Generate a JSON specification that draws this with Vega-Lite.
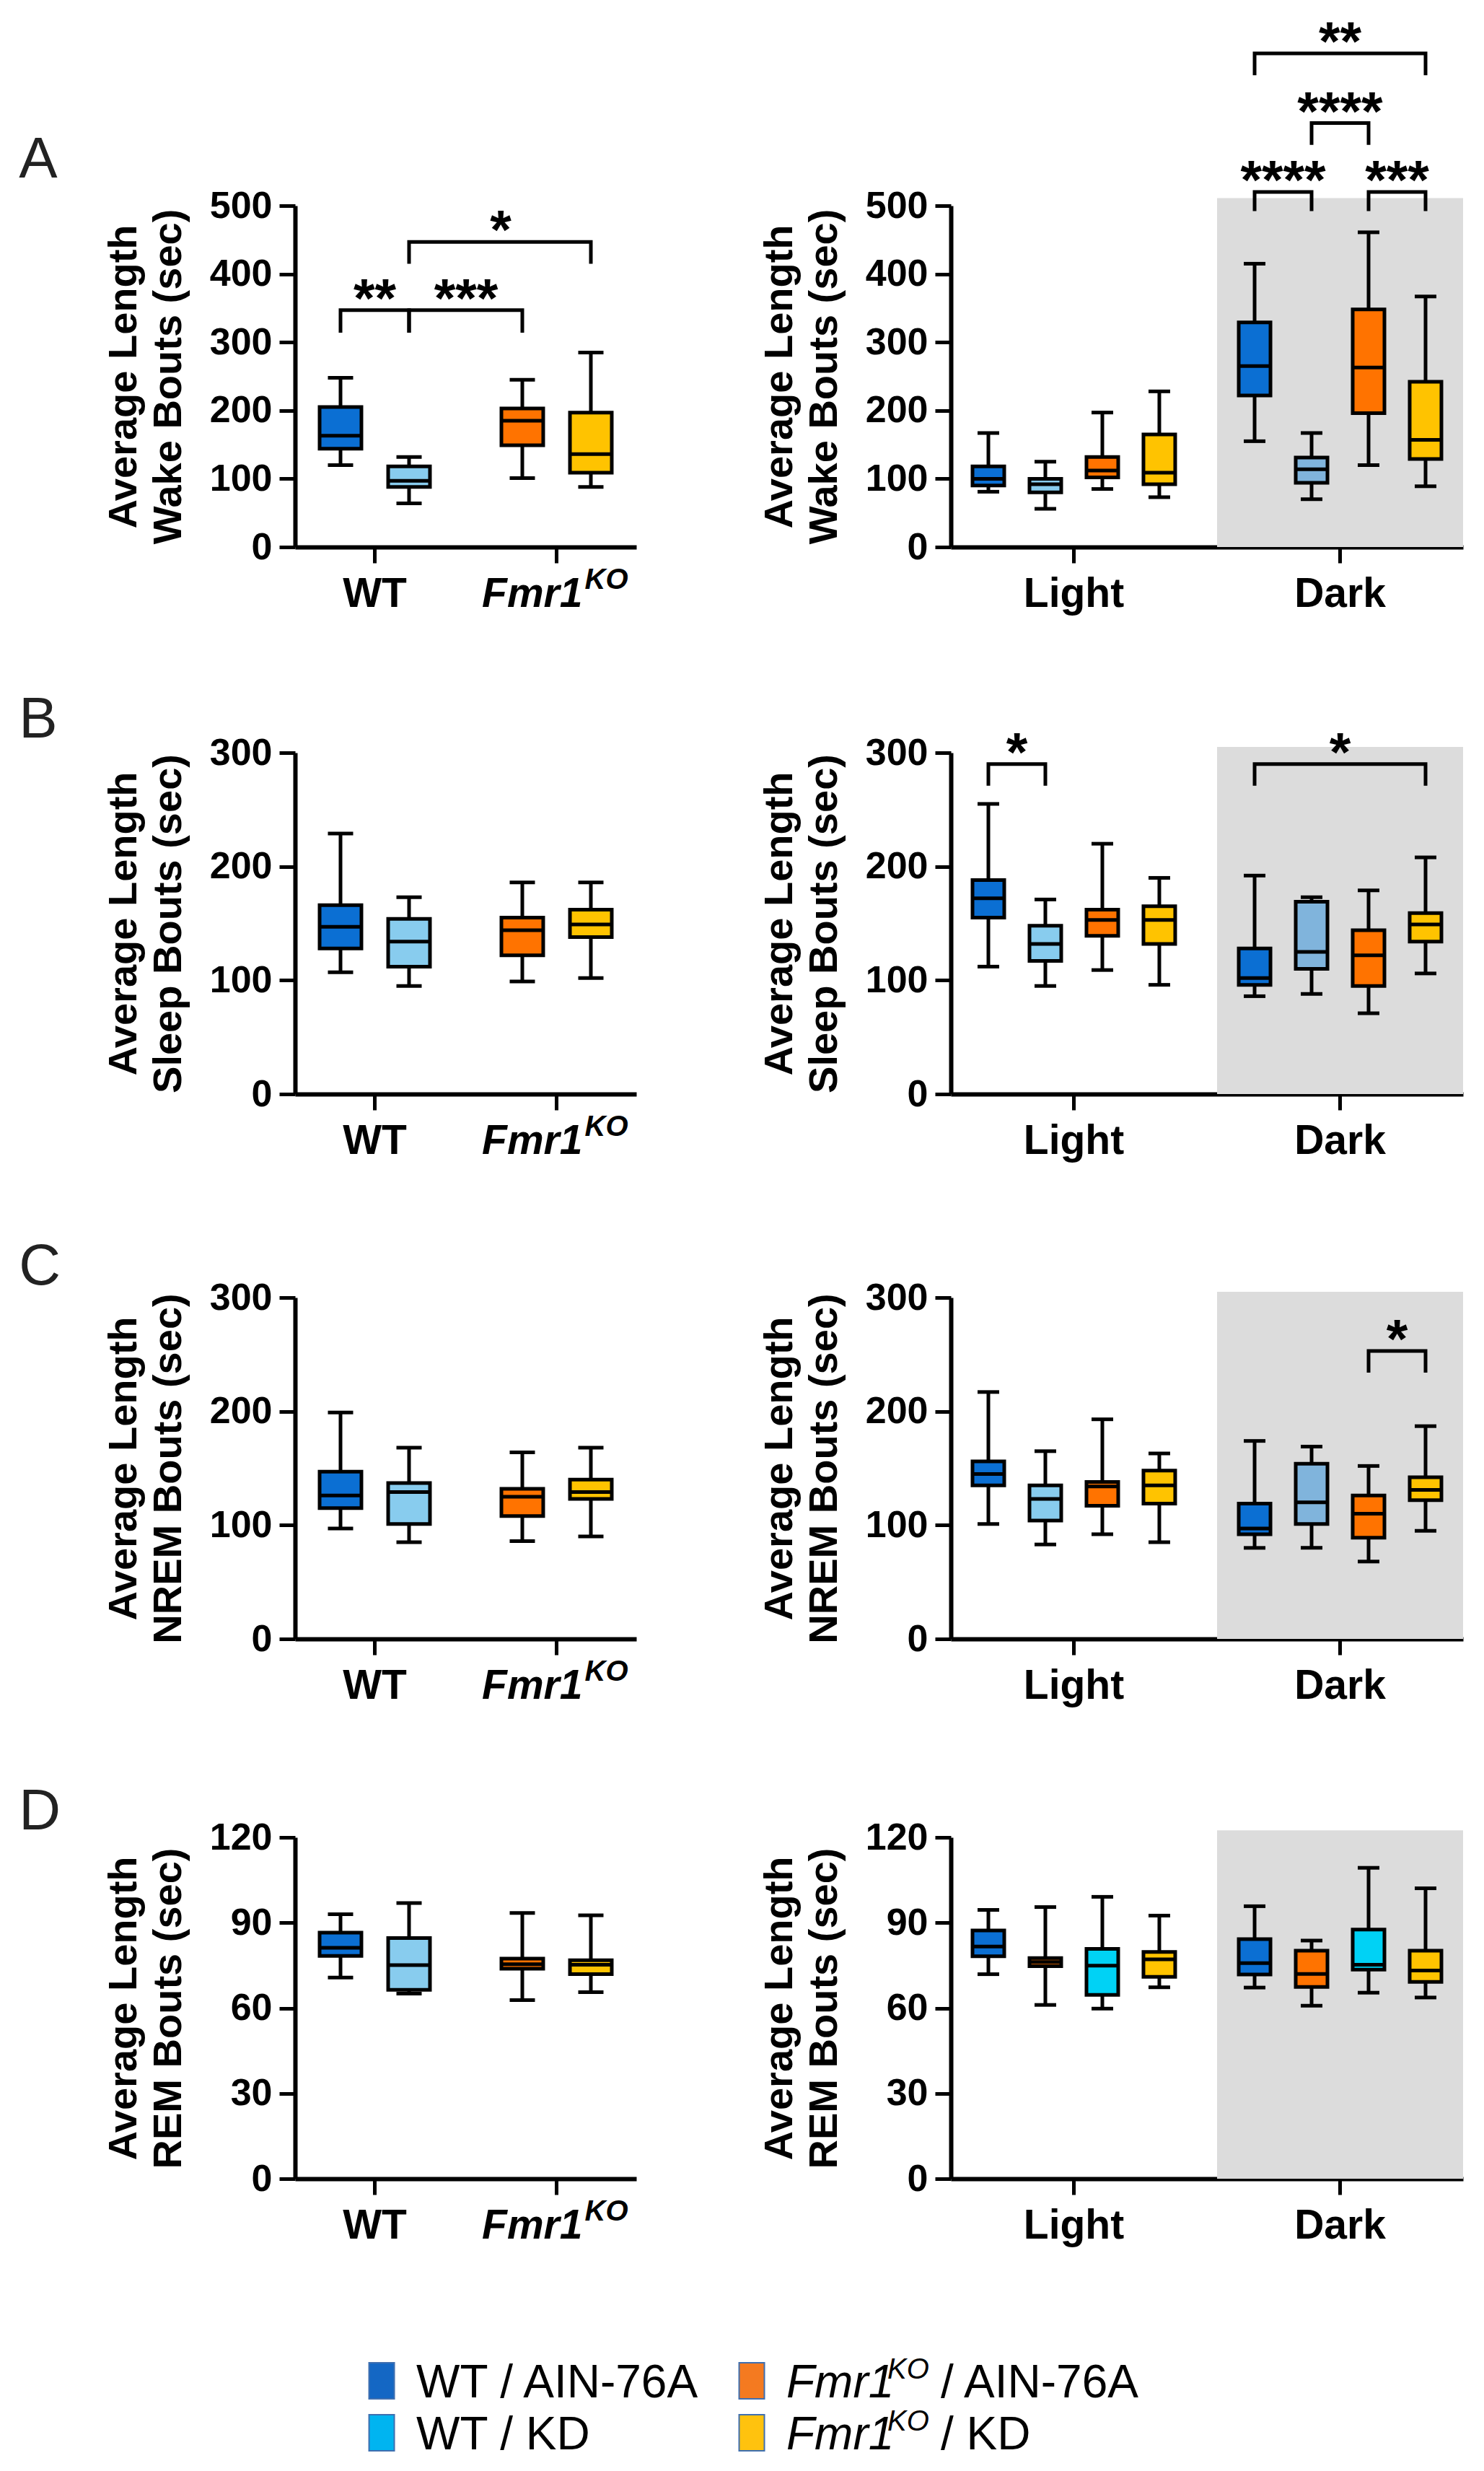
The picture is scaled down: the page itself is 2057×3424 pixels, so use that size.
{
"$schema":"https://vega.github.io/schema/vega-lite/v6.json",
"background":"white",
"padding":{"left":26,"top":22,"right":10,"bottom":5},
"datasets":{
"box":[
{"p":"A1","g":"WT","t":"AIN","c":"WT/AIN","lo":120,"q1":144,"md":163,"q3":205,"hi":248},
{"p":"A1","g":"WT","t":"KD","c":"WT/KD","lo":64,"q1":88,"md":97,"q3":118,"hi":132},
{"p":"A1","g":"KO","t":"AIN","c":"KO/AIN","lo":101,"q1":149,"md":185,"q3":203,"hi":245},
{"p":"A1","g":"KO","t":"KD","c":"KO/KD","lo":88,"q1":109,"md":136,"q3":197,"hi":285},
{"p":"A2","g":"Light","c":"WT/AIN","lo":81,"q1":90,"md":100,"q3":118,"hi":167},
{"p":"A2","g":"Light","c":"WT/KD","lo":56,"q1":80,"md":92,"q3":100,"hi":125},
{"p":"A2","g":"Light","c":"KO/AIN","lo":85,"q1":102,"md":112,"q3":132,"hi":197},
{"p":"A2","g":"Light","c":"KO/KD","lo":73,"q1":92,"md":109,"q3":165,"hi":228},
{"p":"A2","g":"Dark","c":"WT/AIN","lo":155,"q1":222,"md":265,"q3":329,"hi":415},
{"p":"A2","g":"Dark","c":"WT/KD","lo":70,"q1":94,"md":114,"q3":131,"hi":167},
{"p":"A2","g":"Dark","c":"KO/AIN","lo":120,"q1":196,"md":263,"q3":348,"hi":461},
{"p":"A2","g":"Dark","c":"KO/KD","lo":89,"q1":129,"md":157,"q3":242,"hi":367},
{"p":"B1","g":"WT","t":"AIN","c":"WT/AIN","lo":107,"q1":128,"md":147,"q3":166,"hi":229},
{"p":"B1","g":"WT","t":"KD","c":"WT/KD","lo":95,"q1":112,"md":134,"q3":154,"hi":173},
{"p":"B1","g":"KO","t":"AIN","c":"KO/AIN","lo":99,"q1":122,"md":144,"q3":155,"hi":186},
{"p":"B1","g":"KO","t":"KD","c":"KO/KD","lo":102,"q1":138,"md":149,"q3":162,"hi":186},
{"p":"B2","g":"Light","c":"WT/AIN","lo":112,"q1":155,"md":172,"q3":188,"hi":255},
{"p":"B2","g":"Light","c":"WT/KD","lo":95,"q1":117,"md":132,"q3":148,"hi":171},
{"p":"B2","g":"Light","c":"KO/AIN","lo":109,"q1":139,"md":153,"q3":162,"hi":220},
{"p":"B2","g":"Light","c":"KO/KD","lo":96,"q1":132,"md":153,"q3":165,"hi":190},
{"p":"B2","g":"Dark","c":"WT/AIN","lo":86,"q1":96,"md":102,"q3":128,"hi":192},
{"p":"B2","g":"Dark","c":"WT/KD","lo":88,"q1":110,"md":125,"q3":169,"hi":173},
{"p":"B2","g":"Dark","c":"KO/AIN","lo":71,"q1":95,"md":122,"q3":144,"hi":179},
{"p":"B2","g":"Dark","c":"KO/KD","lo":106,"q1":134,"md":149,"q3":159,"hi":208},
{"p":"C1","g":"WT","t":"AIN","c":"WT/AIN","lo":97,"q1":115,"md":126,"q3":147,"hi":199},
{"p":"C1","g":"WT","t":"KD","c":"WT/KD","lo":85,"q1":101,"md":129,"q3":137,"hi":168},
{"p":"C1","g":"KO","t":"AIN","c":"KO/AIN","lo":86,"q1":108,"md":125,"q3":132,"hi":164},
{"p":"C1","g":"KO","t":"KD","c":"KO/KD","lo":90,"q1":123,"md":129,"q3":140,"hi":168},
{"p":"C2","g":"Light","c":"WT/AIN","lo":101,"q1":135,"md":145,"q3":156,"hi":217},
{"p":"C2","g":"Light","c":"WT/KD","lo":83,"q1":104,"md":123,"q3":135,"hi":165},
{"p":"C2","g":"Light","c":"KO/AIN","lo":92,"q1":117,"md":134,"q3":138,"hi":193},
{"p":"C2","g":"Light","c":"KO/KD","lo":85,"q1":119,"md":135,"q3":148,"hi":163},
{"p":"C2","g":"Dark","c":"WT/AIN","lo":80,"q1":92,"md":97,"q3":119,"hi":174},
{"p":"C2","g":"Dark","c":"WT/KD","lo":80,"q1":101,"md":120,"q3":154,"hi":169},
{"p":"C2","g":"Dark","c":"KO/AIN","lo":68,"q1":89,"md":110,"q3":126,"hi":152},
{"p":"C2","g":"Dark","c":"KO/KD","lo":95,"q1":122,"md":131,"q3":142,"hi":187},
{"p":"D1","g":"WT","t":"AIN","c":"WT/AIN","lo":70.7,"q1":78.3,"md":81.2,"q3":86.5,"hi":93},
{"p":"D1","g":"WT","t":"KD","c":"WT/KD","lo":65.1,"q1":66.4,"md":75.1,"q3":84.6,"hi":96.9},
{"p":"D1","g":"KO","t":"AIN","c":"KO/AIN","lo":62.8,"q1":73.8,"md":75.4,"q3":77.4,"hi":93.4},
{"p":"D1","g":"KO","t":"KD","c":"KO/KD","lo":65.6,"q1":71.9,"md":75.2,"q3":76.8,"hi":92.6},
{"p":"D2","g":"Light","c":"WT/AIN","lo":71.9,"q1":78.2,"md":81.6,"q3":87.3,"hi":94.5},
{"p":"D2","g":"Light","c":"KO/AIN","lo":61.1,"q1":74.7,"md":76.2,"q3":77.6,"hi":95.5},
{"p":"D2","g":"Light","c":"WT/KD","lo":59.8,"q1":64.6,"md":74.9,"q3":80.8,"hi":99.1},
{"p":"D2","g":"Light","c":"KO/KD","lo":67.3,"q1":71.0,"md":77.1,"q3":79.7,"hi":92.5},
{"p":"D2","g":"Dark","c":"WT/AIN","lo":67.2,"q1":71.8,"md":75.8,"q3":84.2,"hi":95.8},
{"p":"D2","g":"Dark","c":"KO/AIN","lo":60.8,"q1":67.4,"md":72.0,"q3":80.2,"hi":83.7},
{"p":"D2","g":"Dark","c":"WT/KD","lo":65.4,"q1":73.5,"md":75.2,"q3":87.6,"hi":109.3},
{"p":"D2","g":"Dark","c":"KO/KD","lo":63.7,"q1":69.2,"md":73.2,"q3":80.2,"hi":102.1}
],
"br":[
{"p":"A1","b":"a","g":"WT","t":"AIN","y":314,"o":1},{"p":"A1","b":"a","g":"WT","t":"AIN","y":347,"o":2},{"p":"A1","b":"a","g":"WT","t":"KD","y":347,"o":3},{"p":"A1","b":"a","g":"WT","t":"KD","y":314,"o":4},
{"p":"A1","b":"b","g":"WT","t":"KD","y":314,"o":1},{"p":"A1","b":"b","g":"WT","t":"KD","y":347,"o":2},{"p":"A1","b":"b","g":"KO","t":"AIN","y":347,"o":3},{"p":"A1","b":"b","g":"KO","t":"AIN","y":314,"o":4},
{"p":"A1","b":"c","g":"WT","t":"KD","y":415,"o":1},{"p":"A1","b":"c","g":"WT","t":"KD","y":447,"o":2},{"p":"A1","b":"c","g":"KO","t":"KD","y":447,"o":3},{"p":"A1","b":"c","g":"KO","t":"KD","y":415,"o":4},
{"p":"A2","b":"a","g":"Dark","c":"WT/AIN","y":492,"o":1},{"p":"A2","b":"a","g":"Dark","c":"WT/AIN","y":520,"o":2},{"p":"A2","b":"a","g":"Dark","c":"WT/KD","y":520,"o":3},{"p":"A2","b":"a","g":"Dark","c":"WT/KD","y":492,"o":4},
{"p":"A2","b":"b","g":"Dark","c":"KO/AIN","y":492,"o":1},{"p":"A2","b":"b","g":"Dark","c":"KO/AIN","y":520,"o":2},{"p":"A2","b":"b","g":"Dark","c":"KO/KD","y":520,"o":3},{"p":"A2","b":"b","g":"Dark","c":"KO/KD","y":492,"o":4},
{"p":"A2","b":"c","g":"Dark","c":"WT/KD","y":589,"o":1},{"p":"A2","b":"c","g":"Dark","c":"WT/KD","y":621,"o":2},{"p":"A2","b":"c","g":"Dark","c":"KO/AIN","y":621,"o":3},{"p":"A2","b":"c","g":"Dark","c":"KO/AIN","y":589,"o":4},
{"p":"A2","b":"d","g":"Dark","c":"WT/AIN","y":691,"o":1},{"p":"A2","b":"d","g":"Dark","c":"WT/AIN","y":723,"o":2},{"p":"A2","b":"d","g":"Dark","c":"KO/KD","y":723,"o":3},{"p":"A2","b":"d","g":"Dark","c":"KO/KD","y":691,"o":4},
{"p":"B2","b":"a","g":"Light","c":"WT/AIN","y":271,"o":1},{"p":"B2","b":"a","g":"Light","c":"WT/AIN","y":290,"o":2},{"p":"B2","b":"a","g":"Light","c":"WT/KD","y":290,"o":3},{"p":"B2","b":"a","g":"Light","c":"WT/KD","y":271,"o":4},
{"p":"B2","b":"b","g":"Dark","c":"WT/AIN","y":271,"o":1},{"p":"B2","b":"b","g":"Dark","c":"WT/AIN","y":290,"o":2},{"p":"B2","b":"b","g":"Dark","c":"KO/KD","y":290,"o":3},{"p":"B2","b":"b","g":"Dark","c":"KO/KD","y":271,"o":4},
{"p":"C2","b":"a","g":"Dark","c":"KO/AIN","y":234,"o":1},{"p":"C2","b":"a","g":"Dark","c":"KO/AIN","y":253,"o":2},{"p":"C2","b":"a","g":"Dark","c":"KO/KD","y":253,"o":3},{"p":"C2","b":"a","g":"Dark","c":"KO/KD","y":234,"o":4}
],
"st":[
{"p":"A1","k":"mid","g":"WT","y":347,"s":"**"},
{"p":"A1","k":"c1","g":"WT","t":"KD","y":347,"s":"***"},
{"p":"A1","k":"c2","g":"WT","t":"KD","y":447,"s":"*"},
{"p":"A2","k":"adj","g":"Dark","c":"WT/AIN","y":520,"s":"****"},
{"p":"A2","k":"adj","g":"Dark","c":"KO/AIN","y":520,"s":"***"},
{"p":"A2","k":"mid","g":"Dark","y":621,"s":"****"},
{"p":"A2","k":"mid","g":"Dark","y":723,"s":"**"},
{"p":"B2","k":"adj","g":"Light","c":"WT/AIN","y":290,"s":"*"},
{"p":"B2","k":"mid","g":"Dark","y":290,"s":"*"},
{"p":"C2","k":"adj","g":"Dark","c":"KO/AIN","y":253,"s":"*"}
],
"leg":[
{"col":"WT","row":1,"c":"WT/AIN","full":"WT / AIN-76A","b":"/ AIN-76A"},
{"col":"WT","row":2,"c":"WT/KD","full":"WT / KD","b":"/ KD"},
{"col":"KO","row":1,"c":"KO/AIN","full":"","b":"/ AIN-76A"},
{"col":"KO","row":2,"c":"KO/KD","full":"","b":"/ KD"}
]
},
"vconcat":[
{"vconcat":[
{"hconcat":[
{"width":473,"height":473,
"title":{"text":"A","anchor":"start","frame":"bounds","fontSize":80,"fontWeight":"normal","color":"#222222","dx":-117,"offset":-67,"baseline":"alphabetic"},
"layer":[
{"data":{"name":"box"},"transform":[{"filter":"datum.p=='A1'"}],"layer":[
{"mark":{"type":"rule","color":"#000","strokeWidth":5},"encoding":{"x":{"field":"g","type":"nominal","title":null,"scale":{"type":"band","domain":["WT","KO"],"paddingInner":0.123,"paddingOuter":0},"axis":{"labelExpr":"datum.value=='KO'?'':datum.value"}},"xOffset":{"field":"t","type":"nominal","scale":{"type":"band","domain":["AIN","KD"],"paddingInner":0.39,"paddingOuter":0.358}},"y":{"field":"lo","type":"quantitative","title":["Average Length","Wake Bouts (sec)"],"scale":{"domain":[0,500],"nice":false},"axis":{"values":[0,100,200,300,400,500]}},"y2":{"field":"hi"}}},
{"mark":{"type":"bar","stroke":"#000","strokeWidth":5},"encoding":{"x":{"field":"g","type":"nominal","title":null},"xOffset":{"field":"t","type":"nominal"},"y":{"field":"q1","type":"quantitative","title":["Average Length","Wake Bouts (sec)"]},"y2":{"field":"q3"},"fill":{"field":"c","type":"nominal","legend":null,"scale":{"domain":["WT/AIN","WT/KD","KO/AIN","KO/KD"],"range":["#0B6FD3","#88CCEE","#FF7300","#FFC300"]}}}},
{"mark":{"type":"tick","color":"#000","thickness":5,"size":58,"opacity":1},"encoding":{"x":{"field":"g","type":"nominal","title":null},"xOffset":{"field":"t","type":"nominal"},"y":{"field":"md","type":"quantitative","title":["Average Length","Wake Bouts (sec)"]}}},
{"mark":{"type":"tick","color":"#000","thickness":5,"size":35,"opacity":1},"encoding":{"x":{"field":"g","type":"nominal","title":null},"xOffset":{"field":"t","type":"nominal"},"y":{"field":"lo","type":"quantitative","title":["Average Length","Wake Bouts (sec)"]}}},
{"mark":{"type":"tick","color":"#000","thickness":5,"size":35,"opacity":1},"encoding":{"x":{"field":"g","type":"nominal","title":null},"xOffset":{"field":"t","type":"nominal"},"y":{"field":"hi","type":"quantitative","title":["Average Length","Wake Bouts (sec)"]}}}
]},
{"data":{"name":"br"},"transform":[{"filter":"datum.p=='A1'"}],"mark":{"type":"line","color":"#000","strokeWidth":5},"encoding":{"x":{"field":"g","type":"nominal","title":null},"xOffset":{"field":"t","type":"nominal"},"y":{"field":"y","type":"quantitative","title":["Average Length","Wake Bouts (sec)"]},"detail":{"field":"b"},"order":{"field":"o","type":"quantitative"}}},
{"data":{"name":"st"},"transform":[{"filter":"datum.p=='A1' && datum.k=='mid'"}],"mark":{"type":"text","fontSize":76,"fontWeight":"bold","baseline":"alphabetic","dy":9,"color":"#000"},"encoding":{"x":{"field":"g","type":"nominal","title":null},"y":{"field":"y","type":"quantitative","title":["Average Length","Wake Bouts (sec)"]},"text":{"field":"s"}}},
{"data":{"name":"st"},"transform":[{"filter":"datum.p=='A1' && datum.k=='c1'"}],"mark":{"type":"text","fontSize":76,"fontWeight":"bold","baseline":"alphabetic","dy":9,"dx":79,"color":"#000"},"encoding":{"x":{"field":"g","type":"nominal","title":null},"xOffset":{"field":"t","type":"nominal"},"y":{"field":"y","type":"quantitative","title":["Average Length","Wake Bouts (sec)"]},"text":{"field":"s"}}},
{"data":{"name":"st"},"transform":[{"filter":"datum.p=='A1' && datum.k=='c2'"}],"mark":{"type":"text","fontSize":76,"fontWeight":"bold","baseline":"alphabetic","dy":9,"dx":127,"color":"#000"},"encoding":{"x":{"field":"g","type":"nominal","title":null},"xOffset":{"field":"t","type":"nominal"},"y":{"field":"y","type":"quantitative","title":["Average Length","Wake Bouts (sec)"]},"text":{"field":"s"}}},
{"data":{"values":[{"g":"KO"}]},"layer":[
{"mark":{"type":"text","text":"Fmr1","fontSize":57,"fontWeight":"bold","fontStyle":"italic","align":"right","baseline":"alphabetic","dx":36,"dy":83,"color":"#000"},"encoding":{"x":{"field":"g","type":"nominal","title":null},"y":{"datum":0,"type":"quantitative","title":["Average Length","Wake Bouts (sec)"]}}},
{"mark":{"type":"text","text":"KO","fontSize":40,"fontWeight":"bold","fontStyle":"italic","align":"left","baseline":"alphabetic","dx":39,"dy":58,"color":"#000"},"encoding":{"x":{"field":"g","type":"nominal","title":null},"y":{"datum":0,"type":"quantitative","title":["Average Length","Wake Bouts (sec)"]}}}
]}
]},
{"width":710,"height":473,
"layer":[
{"data":{"values":[{"g":"Dark"}]},"mark":{"type":"bar","color":"#DCDCDC"},"encoding":{"x":{"field":"g","type":"nominal","title":null},"y":{"datum":511,"type":"quantitative","title":["Average Length","Wake Bouts (sec)"]},"y2":{"datum":0}}},
{"data":{"name":"box"},"transform":[{"filter":"datum.p=='A2'"}],"layer":[
{"mark":{"type":"rule","color":"#000","strokeWidth":5},"encoding":{"x":{"field":"g","type":"nominal","title":null,"scale":{"type":"band","domain":["Light","Dark"],"paddingInner":0.076,"paddingOuter":0}},"xOffset":{"field":"c","type":"nominal","scale":{"type":"band","domain":["WT/AIN","WT/KD","KO/AIN","KO/KD"],"paddingInner":0.443,"paddingOuter":0.38}},"y":{"field":"lo","type":"quantitative","title":["Average Length","Wake Bouts (sec)"],"scale":{"domain":[0,500],"nice":false},"axis":{"values":[0,100,200,300,400,500]}},"y2":{"field":"hi"}}},
{"mark":{"type":"bar","stroke":"#000","strokeWidth":5},"encoding":{"x":{"field":"g","type":"nominal","title":null},"xOffset":{"field":"c","type":"nominal"},"y":{"field":"q1","type":"quantitative","title":["Average Length","Wake Bouts (sec)"]},"y2":{"field":"q3"},"fill":{"condition":{"test":"datum.g=='Dark' && datum.c=='WT/KD'","value":"#80B4DC"},"field":"c","type":"nominal","legend":null,"scale":{"domain":["WT/AIN","WT/KD","KO/AIN","KO/KD"],"range":["#0B6FD3","#88CCEE","#FF7300","#FFC300"]}}}},
{"mark":{"type":"tick","color":"#000","thickness":5,"size":46,"opacity":1},"encoding":{"x":{"field":"g","type":"nominal","title":null},"xOffset":{"field":"c","type":"nominal"},"y":{"field":"md","type":"quantitative","title":["Average Length","Wake Bouts (sec)"]}}},
{"mark":{"type":"tick","color":"#000","thickness":5,"size":30,"opacity":1},"encoding":{"x":{"field":"g","type":"nominal","title":null},"xOffset":{"field":"c","type":"nominal"},"y":{"field":"lo","type":"quantitative","title":["Average Length","Wake Bouts (sec)"]}}},
{"mark":{"type":"tick","color":"#000","thickness":5,"size":30,"opacity":1},"encoding":{"x":{"field":"g","type":"nominal","title":null},"xOffset":{"field":"c","type":"nominal"},"y":{"field":"hi","type":"quantitative","title":["Average Length","Wake Bouts (sec)"]}}}
]},
{"data":{"name":"br"},"transform":[{"filter":"datum.p=='A2'"}],"mark":{"type":"line","color":"#000","strokeWidth":5},"encoding":{"x":{"field":"g","type":"nominal","title":null},"xOffset":{"field":"c","type":"nominal"},"y":{"field":"y","type":"quantitative","title":["Average Length","Wake Bouts (sec)"]},"detail":{"field":"b"},"order":{"field":"o","type":"quantitative"}}},
{"data":{"name":"st"},"transform":[{"filter":"datum.p=='A2' && datum.k=='mid'"}],"mark":{"type":"text","fontSize":76,"fontWeight":"bold","baseline":"alphabetic","dy":9,"color":"#000"},"encoding":{"x":{"field":"g","type":"nominal","title":null},"y":{"field":"y","type":"quantitative","title":["Average Length","Wake Bouts (sec)"]},"text":{"field":"s"}}},
{"data":{"name":"st"},"transform":[{"filter":"datum.p=='A2' && datum.k=='adj'"}],"mark":{"type":"text","fontSize":76,"fontWeight":"bold","baseline":"alphabetic","dy":9,"dx":39.5,"color":"#000"},"encoding":{"x":{"field":"g","type":"nominal","title":null},"xOffset":{"field":"c","type":"nominal"},"y":{"field":"y","type":"quantitative","title":["Average Length","Wake Bouts (sec)"]},"text":{"field":"s"}}}
]}
],"spacing":436,"bounds":"flush","resolve":{"scale":{"x":"independent","y":"independent","xOffset":"independent","fill":"independent"}}},
{"hconcat":[
{"width":473,"height":473,
"title":{"text":"B","anchor":"start","frame":"bounds","fontSize":80,"fontWeight":"normal","color":"#222222","dx":-117,"offset":-85,"baseline":"alphabetic"},
"layer":[
{"data":{"name":"box"},"transform":[{"filter":"datum.p=='B1'"}],"layer":[
{"mark":{"type":"rule","color":"#000","strokeWidth":5},"encoding":{"x":{"field":"g","type":"nominal","title":null,"scale":{"type":"band","domain":["WT","KO"],"paddingInner":0.123,"paddingOuter":0},"axis":{"labelExpr":"datum.value=='KO'?'':datum.value"}},"xOffset":{"field":"t","type":"nominal","scale":{"type":"band","domain":["AIN","KD"],"paddingInner":0.39,"paddingOuter":0.358}},"y":{"field":"lo","type":"quantitative","title":["Average Length","Sleep Bouts (sec)"],"scale":{"domain":[0,300],"nice":false},"axis":{"values":[0,100,200,300]}},"y2":{"field":"hi"}}},
{"mark":{"type":"bar","stroke":"#000","strokeWidth":5},"encoding":{"x":{"field":"g","type":"nominal","title":null},"xOffset":{"field":"t","type":"nominal"},"y":{"field":"q1","type":"quantitative","title":["Average Length","Sleep Bouts (sec)"]},"y2":{"field":"q3"},"fill":{"field":"c","type":"nominal","legend":null,"scale":{"domain":["WT/AIN","WT/KD","KO/AIN","KO/KD"],"range":["#0B6FD3","#88CCEE","#FF7300","#FFC300"]}}}},
{"mark":{"type":"tick","color":"#000","thickness":5,"size":58,"opacity":1},"encoding":{"x":{"field":"g","type":"nominal","title":null},"xOffset":{"field":"t","type":"nominal"},"y":{"field":"md","type":"quantitative","title":["Average Length","Sleep Bouts (sec)"]}}},
{"mark":{"type":"tick","color":"#000","thickness":5,"size":35,"opacity":1},"encoding":{"x":{"field":"g","type":"nominal","title":null},"xOffset":{"field":"t","type":"nominal"},"y":{"field":"lo","type":"quantitative","title":["Average Length","Sleep Bouts (sec)"]}}},
{"mark":{"type":"tick","color":"#000","thickness":5,"size":35,"opacity":1},"encoding":{"x":{"field":"g","type":"nominal","title":null},"xOffset":{"field":"t","type":"nominal"},"y":{"field":"hi","type":"quantitative","title":["Average Length","Sleep Bouts (sec)"]}}}
]},
{"data":{"values":[{"g":"KO"}]},"layer":[
{"mark":{"type":"text","text":"Fmr1","fontSize":57,"fontWeight":"bold","fontStyle":"italic","align":"right","baseline":"alphabetic","dx":36,"dy":83,"color":"#000"},"encoding":{"x":{"field":"g","type":"nominal","title":null},"y":{"datum":0,"type":"quantitative","title":["Average Length","Sleep Bouts (sec)"]}}},
{"mark":{"type":"text","text":"KO","fontSize":40,"fontWeight":"bold","fontStyle":"italic","align":"left","baseline":"alphabetic","dx":39,"dy":58,"color":"#000"},"encoding":{"x":{"field":"g","type":"nominal","title":null},"y":{"datum":0,"type":"quantitative","title":["Average Length","Sleep Bouts (sec)"]}}}
]}
]},
{"width":710,"height":473,
"layer":[
{"data":{"values":[{"g":"Dark"}]},"mark":{"type":"bar","color":"#DCDCDC"},"encoding":{"x":{"field":"g","type":"nominal","title":null},"y":{"datum":305,"type":"quantitative","title":["Average Length","Sleep Bouts (sec)"]},"y2":{"datum":0}}},
{"data":{"name":"box"},"transform":[{"filter":"datum.p=='B2'"}],"layer":[
{"mark":{"type":"rule","color":"#000","strokeWidth":5},"encoding":{"x":{"field":"g","type":"nominal","title":null,"scale":{"type":"band","domain":["Light","Dark"],"paddingInner":0.076,"paddingOuter":0}},"xOffset":{"field":"c","type":"nominal","scale":{"type":"band","domain":["WT/AIN","WT/KD","KO/AIN","KO/KD"],"paddingInner":0.443,"paddingOuter":0.38}},"y":{"field":"lo","type":"quantitative","title":["Average Length","Sleep Bouts (sec)"],"scale":{"domain":[0,300],"nice":false},"axis":{"values":[0,100,200,300]}},"y2":{"field":"hi"}}},
{"mark":{"type":"bar","stroke":"#000","strokeWidth":5},"encoding":{"x":{"field":"g","type":"nominal","title":null},"xOffset":{"field":"c","type":"nominal"},"y":{"field":"q1","type":"quantitative","title":["Average Length","Sleep Bouts (sec)"]},"y2":{"field":"q3"},"fill":{"condition":{"test":"datum.g=='Dark' && datum.c=='WT/KD'","value":"#80B4DC"},"field":"c","type":"nominal","legend":null,"scale":{"domain":["WT/AIN","WT/KD","KO/AIN","KO/KD"],"range":["#0B6FD3","#88CCEE","#FF7300","#FFC300"]}}}},
{"mark":{"type":"tick","color":"#000","thickness":5,"size":46,"opacity":1},"encoding":{"x":{"field":"g","type":"nominal","title":null},"xOffset":{"field":"c","type":"nominal"},"y":{"field":"md","type":"quantitative","title":["Average Length","Sleep Bouts (sec)"]}}},
{"mark":{"type":"tick","color":"#000","thickness":5,"size":30,"opacity":1},"encoding":{"x":{"field":"g","type":"nominal","title":null},"xOffset":{"field":"c","type":"nominal"},"y":{"field":"lo","type":"quantitative","title":["Average Length","Sleep Bouts (sec)"]}}},
{"mark":{"type":"tick","color":"#000","thickness":5,"size":30,"opacity":1},"encoding":{"x":{"field":"g","type":"nominal","title":null},"xOffset":{"field":"c","type":"nominal"},"y":{"field":"hi","type":"quantitative","title":["Average Length","Sleep Bouts (sec)"]}}}
]},
{"data":{"name":"br"},"transform":[{"filter":"datum.p=='B2'"}],"mark":{"type":"line","color":"#000","strokeWidth":5},"encoding":{"x":{"field":"g","type":"nominal","title":null},"xOffset":{"field":"c","type":"nominal"},"y":{"field":"y","type":"quantitative","title":["Average Length","Sleep Bouts (sec)"]},"detail":{"field":"b"},"order":{"field":"o","type":"quantitative"}}},
{"data":{"name":"st"},"transform":[{"filter":"datum.p=='B2' && datum.k=='mid'"}],"mark":{"type":"text","fontSize":76,"fontWeight":"bold","baseline":"alphabetic","dy":9,"color":"#000"},"encoding":{"x":{"field":"g","type":"nominal","title":null},"y":{"field":"y","type":"quantitative","title":["Average Length","Sleep Bouts (sec)"]},"text":{"field":"s"}}},
{"data":{"name":"st"},"transform":[{"filter":"datum.p=='B2' && datum.k=='adj'"}],"mark":{"type":"text","fontSize":76,"fontWeight":"bold","baseline":"alphabetic","dy":9,"dx":39.5,"color":"#000"},"encoding":{"x":{"field":"g","type":"nominal","title":null},"xOffset":{"field":"c","type":"nominal"},"y":{"field":"y","type":"quantitative","title":["Average Length","Sleep Bouts (sec)"]},"text":{"field":"s"}}}
]}
],"spacing":436,"bounds":"flush","resolve":{"scale":{"x":"independent","y":"independent","xOffset":"independent","fill":"independent"}}},
{"hconcat":[
{"width":473,"height":473,
"title":{"text":"C","anchor":"start","frame":"bounds","fontSize":80,"fontWeight":"normal","color":"#222222","dx":-117,"offset":-88,"baseline":"alphabetic"},
"layer":[
{"data":{"name":"box"},"transform":[{"filter":"datum.p=='C1'"}],"layer":[
{"mark":{"type":"rule","color":"#000","strokeWidth":5},"encoding":{"x":{"field":"g","type":"nominal","title":null,"scale":{"type":"band","domain":["WT","KO"],"paddingInner":0.123,"paddingOuter":0},"axis":{"labelExpr":"datum.value=='KO'?'':datum.value"}},"xOffset":{"field":"t","type":"nominal","scale":{"type":"band","domain":["AIN","KD"],"paddingInner":0.39,"paddingOuter":0.358}},"y":{"field":"lo","type":"quantitative","title":["Average Length","NREM Bouts (sec)"],"scale":{"domain":[0,300],"nice":false},"axis":{"values":[0,100,200,300]}},"y2":{"field":"hi"}}},
{"mark":{"type":"bar","stroke":"#000","strokeWidth":5},"encoding":{"x":{"field":"g","type":"nominal","title":null},"xOffset":{"field":"t","type":"nominal"},"y":{"field":"q1","type":"quantitative","title":["Average Length","NREM Bouts (sec)"]},"y2":{"field":"q3"},"fill":{"field":"c","type":"nominal","legend":null,"scale":{"domain":["WT/AIN","WT/KD","KO/AIN","KO/KD"],"range":["#0B6FD3","#88CCEE","#FF7300","#FFC300"]}}}},
{"mark":{"type":"tick","color":"#000","thickness":5,"size":58,"opacity":1},"encoding":{"x":{"field":"g","type":"nominal","title":null},"xOffset":{"field":"t","type":"nominal"},"y":{"field":"md","type":"quantitative","title":["Average Length","NREM Bouts (sec)"]}}},
{"mark":{"type":"tick","color":"#000","thickness":5,"size":35,"opacity":1},"encoding":{"x":{"field":"g","type":"nominal","title":null},"xOffset":{"field":"t","type":"nominal"},"y":{"field":"lo","type":"quantitative","title":["Average Length","NREM Bouts (sec)"]}}},
{"mark":{"type":"tick","color":"#000","thickness":5,"size":35,"opacity":1},"encoding":{"x":{"field":"g","type":"nominal","title":null},"xOffset":{"field":"t","type":"nominal"},"y":{"field":"hi","type":"quantitative","title":["Average Length","NREM Bouts (sec)"]}}}
]},
{"data":{"values":[{"g":"KO"}]},"layer":[
{"mark":{"type":"text","text":"Fmr1","fontSize":57,"fontWeight":"bold","fontStyle":"italic","align":"right","baseline":"alphabetic","dx":36,"dy":83,"color":"#000"},"encoding":{"x":{"field":"g","type":"nominal","title":null},"y":{"datum":0,"type":"quantitative","title":["Average Length","NREM Bouts (sec)"]}}},
{"mark":{"type":"text","text":"KO","fontSize":40,"fontWeight":"bold","fontStyle":"italic","align":"left","baseline":"alphabetic","dx":39,"dy":58,"color":"#000"},"encoding":{"x":{"field":"g","type":"nominal","title":null},"y":{"datum":0,"type":"quantitative","title":["Average Length","NREM Bouts (sec)"]}}}
]}
]},
{"width":710,"height":473,
"layer":[
{"data":{"values":[{"g":"Dark"}]},"mark":{"type":"bar","color":"#DCDCDC"},"encoding":{"x":{"field":"g","type":"nominal","title":null},"y":{"datum":305,"type":"quantitative","title":["Average Length","NREM Bouts (sec)"]},"y2":{"datum":0}}},
{"data":{"name":"box"},"transform":[{"filter":"datum.p=='C2'"}],"layer":[
{"mark":{"type":"rule","color":"#000","strokeWidth":5},"encoding":{"x":{"field":"g","type":"nominal","title":null,"scale":{"type":"band","domain":["Light","Dark"],"paddingInner":0.076,"paddingOuter":0}},"xOffset":{"field":"c","type":"nominal","scale":{"type":"band","domain":["WT/AIN","WT/KD","KO/AIN","KO/KD"],"paddingInner":0.443,"paddingOuter":0.38}},"y":{"field":"lo","type":"quantitative","title":["Average Length","NREM Bouts (sec)"],"scale":{"domain":[0,300],"nice":false},"axis":{"values":[0,100,200,300]}},"y2":{"field":"hi"}}},
{"mark":{"type":"bar","stroke":"#000","strokeWidth":5},"encoding":{"x":{"field":"g","type":"nominal","title":null},"xOffset":{"field":"c","type":"nominal"},"y":{"field":"q1","type":"quantitative","title":["Average Length","NREM Bouts (sec)"]},"y2":{"field":"q3"},"fill":{"condition":{"test":"datum.g=='Dark' && datum.c=='WT/KD'","value":"#80B4DC"},"field":"c","type":"nominal","legend":null,"scale":{"domain":["WT/AIN","WT/KD","KO/AIN","KO/KD"],"range":["#0B6FD3","#88CCEE","#FF7300","#FFC300"]}}}},
{"mark":{"type":"tick","color":"#000","thickness":5,"size":46,"opacity":1},"encoding":{"x":{"field":"g","type":"nominal","title":null},"xOffset":{"field":"c","type":"nominal"},"y":{"field":"md","type":"quantitative","title":["Average Length","NREM Bouts (sec)"]}}},
{"mark":{"type":"tick","color":"#000","thickness":5,"size":30,"opacity":1},"encoding":{"x":{"field":"g","type":"nominal","title":null},"xOffset":{"field":"c","type":"nominal"},"y":{"field":"lo","type":"quantitative","title":["Average Length","NREM Bouts (sec)"]}}},
{"mark":{"type":"tick","color":"#000","thickness":5,"size":30,"opacity":1},"encoding":{"x":{"field":"g","type":"nominal","title":null},"xOffset":{"field":"c","type":"nominal"},"y":{"field":"hi","type":"quantitative","title":["Average Length","NREM Bouts (sec)"]}}}
]},
{"data":{"name":"br"},"transform":[{"filter":"datum.p=='C2'"}],"mark":{"type":"line","color":"#000","strokeWidth":5},"encoding":{"x":{"field":"g","type":"nominal","title":null},"xOffset":{"field":"c","type":"nominal"},"y":{"field":"y","type":"quantitative","title":["Average Length","NREM Bouts (sec)"]},"detail":{"field":"b"},"order":{"field":"o","type":"quantitative"}}},
{"data":{"name":"st"},"transform":[{"filter":"datum.p=='C2' && datum.k=='adj'"}],"mark":{"type":"text","fontSize":76,"fontWeight":"bold","baseline":"alphabetic","dy":9,"dx":39.5,"color":"#000"},"encoding":{"x":{"field":"g","type":"nominal","title":null},"xOffset":{"field":"c","type":"nominal"},"y":{"field":"y","type":"quantitative","title":["Average Length","NREM Bouts (sec)"]},"text":{"field":"s"}}}
]}
],"spacing":436,"bounds":"flush","resolve":{"scale":{"x":"independent","y":"independent","xOffset":"independent","fill":"independent"}}},
{"hconcat":[
{"width":473,"height":473,
"title":{"text":"D","anchor":"start","frame":"bounds","fontSize":80,"fontWeight":"normal","color":"#222222","dx":-117,"offset":-95,"baseline":"alphabetic"},
"layer":[
{"data":{"name":"box"},"transform":[{"filter":"datum.p=='D1'"}],"layer":[
{"mark":{"type":"rule","color":"#000","strokeWidth":5},"encoding":{"x":{"field":"g","type":"nominal","title":null,"scale":{"type":"band","domain":["WT","KO"],"paddingInner":0.123,"paddingOuter":0},"axis":{"labelExpr":"datum.value=='KO'?'':datum.value"}},"xOffset":{"field":"t","type":"nominal","scale":{"type":"band","domain":["AIN","KD"],"paddingInner":0.39,"paddingOuter":0.358}},"y":{"field":"lo","type":"quantitative","title":["Average Length","REM Bouts (sec)"],"scale":{"domain":[0,120],"nice":false},"axis":{"values":[0,30,60,90,120]}},"y2":{"field":"hi"}}},
{"mark":{"type":"bar","stroke":"#000","strokeWidth":5},"encoding":{"x":{"field":"g","type":"nominal","title":null},"xOffset":{"field":"t","type":"nominal"},"y":{"field":"q1","type":"quantitative","title":["Average Length","REM Bouts (sec)"]},"y2":{"field":"q3"},"fill":{"field":"c","type":"nominal","legend":null,"scale":{"domain":["WT/AIN","WT/KD","KO/AIN","KO/KD"],"range":["#0B6FD3","#88CCEE","#FF7300","#FFC300"]}}}},
{"mark":{"type":"tick","color":"#000","thickness":5,"size":58,"opacity":1},"encoding":{"x":{"field":"g","type":"nominal","title":null},"xOffset":{"field":"t","type":"nominal"},"y":{"field":"md","type":"quantitative","title":["Average Length","REM Bouts (sec)"]}}},
{"mark":{"type":"tick","color":"#000","thickness":5,"size":35,"opacity":1},"encoding":{"x":{"field":"g","type":"nominal","title":null},"xOffset":{"field":"t","type":"nominal"},"y":{"field":"lo","type":"quantitative","title":["Average Length","REM Bouts (sec)"]}}},
{"mark":{"type":"tick","color":"#000","thickness":5,"size":35,"opacity":1},"encoding":{"x":{"field":"g","type":"nominal","title":null},"xOffset":{"field":"t","type":"nominal"},"y":{"field":"hi","type":"quantitative","title":["Average Length","REM Bouts (sec)"]}}}
]},
{"data":{"values":[{"g":"KO"}]},"layer":[
{"mark":{"type":"text","text":"Fmr1","fontSize":57,"fontWeight":"bold","fontStyle":"italic","align":"right","baseline":"alphabetic","dx":36,"dy":83,"color":"#000"},"encoding":{"x":{"field":"g","type":"nominal","title":null},"y":{"datum":0,"type":"quantitative","title":["Average Length","REM Bouts (sec)"]}}},
{"mark":{"type":"text","text":"KO","fontSize":40,"fontWeight":"bold","fontStyle":"italic","align":"left","baseline":"alphabetic","dx":39,"dy":58,"color":"#000"},"encoding":{"x":{"field":"g","type":"nominal","title":null},"y":{"datum":0,"type":"quantitative","title":["Average Length","REM Bouts (sec)"]}}}
]}
]},
{"width":710,"height":473,
"layer":[
{"data":{"values":[{"g":"Dark"}]},"mark":{"type":"bar","color":"#DCDCDC"},"encoding":{"x":{"field":"g","type":"nominal","title":null},"y":{"datum":122.5,"type":"quantitative","title":["Average Length","REM Bouts (sec)"]},"y2":{"datum":0}}},
{"data":{"name":"box"},"transform":[{"filter":"datum.p=='D2'"}],"layer":[
{"mark":{"type":"rule","color":"#000","strokeWidth":5},"encoding":{"x":{"field":"g","type":"nominal","title":null,"scale":{"type":"band","domain":["Light","Dark"],"paddingInner":0.076,"paddingOuter":0}},"xOffset":{"field":"c","type":"nominal","scale":{"type":"band","domain":["WT/AIN","KO/AIN","WT/KD","KO/KD"],"paddingInner":0.443,"paddingOuter":0.38}},"y":{"field":"lo","type":"quantitative","title":["Average Length","REM Bouts (sec)"],"scale":{"domain":[0,120],"nice":false},"axis":{"values":[0,30,60,90,120]}},"y2":{"field":"hi"}}},
{"mark":{"type":"bar","stroke":"#000","strokeWidth":5},"encoding":{"x":{"field":"g","type":"nominal","title":null},"xOffset":{"field":"c","type":"nominal"},"y":{"field":"q1","type":"quantitative","title":["Average Length","REM Bouts (sec)"]},"y2":{"field":"q3"},"fill":{"field":"c","type":"nominal","legend":null,"scale":{"domain":["WT/AIN","WT/KD","KO/AIN","KO/KD"],"range":["#0B6FD3","#00D2F5","#FF7300","#FFC300"]}}}},
{"mark":{"type":"tick","color":"#000","thickness":5,"size":46,"opacity":1},"encoding":{"x":{"field":"g","type":"nominal","title":null},"xOffset":{"field":"c","type":"nominal"},"y":{"field":"md","type":"quantitative","title":["Average Length","REM Bouts (sec)"]}}},
{"mark":{"type":"tick","color":"#000","thickness":5,"size":30,"opacity":1},"encoding":{"x":{"field":"g","type":"nominal","title":null},"xOffset":{"field":"c","type":"nominal"},"y":{"field":"lo","type":"quantitative","title":["Average Length","REM Bouts (sec)"]}}},
{"mark":{"type":"tick","color":"#000","thickness":5,"size":30,"opacity":1},"encoding":{"x":{"field":"g","type":"nominal","title":null},"xOffset":{"field":"c","type":"nominal"},"y":{"field":"hi","type":"quantitative","title":["Average Length","REM Bouts (sec)"]}}}
]}
]}
],"spacing":436,"bounds":"flush","resolve":{"scale":{"x":"independent","y":"independent","xOffset":"independent","fill":"independent"}}}
],"spacing":106,"resolve":{"scale":{"x":"independent","y":"independent","xOffset":"independent","fill":"independent"}}},
{"width":1146,"height":144,
"data":{"name":"leg"},
"encoding":{
"x":{"field":"col","type":"nominal","bandPosition":0,"scale":{"type":"band","domain":["WT","KO"],"paddingInner":0,"paddingOuter":0.117,"align":1},"axis":null},
"y":{"field":"row","type":"nominal","scale":{"type":"band","domain":[1,2],"paddingInner":0,"paddingOuter":0},"axis":null}
},
"layer":[
{"mark":{"type":"point","filled":true,"opacity":1,"shape":"M-0.7,-1L0.7,-1L0.7,1L-0.7,1Z","size":2500,"stroke":"#3F6FB0","strokeWidth":2},"encoding":{"fill":{"field":"c","type":"nominal","legend":null,"scale":{"domain":["WT/AIN","WT/KD","KO/AIN","KO/KD"],"range":["#1467C4","#00B4F0","#F47A20","#FFC20E"]}}}},
{"transform":[{"filter":"datum.col=='WT'"}],"mark":{"type":"text","fontSize":64,"align":"left","baseline":"alphabetic","dx":48,"dy":23,"color":"#000"},"encoding":{"text":{"field":"full"}}},
{"transform":[{"filter":"datum.col=='KO'"}],"mark":{"type":"text","text":"Fmr1","fontSize":64,"fontStyle":"italic","align":"left","baseline":"alphabetic","dx":48,"dy":23,"color":"#000"}},
{"transform":[{"filter":"datum.col=='KO'"}],"mark":{"type":"text","text":"KO","fontSize":40,"fontStyle":"italic","align":"left","baseline":"alphabetic","dx":188,"dy":-3,"color":"#000"}},
{"transform":[{"filter":"datum.col=='KO'"}],"mark":{"type":"text","fontSize":64,"align":"left","baseline":"alphabetic","dx":262,"dy":23,"color":"#000"},"encoding":{"text":{"field":"b"}}}
]}
],
"spacing":150,
"resolve":{"scale":{"x":"independent","y":"independent","xOffset":"independent","fill":"independent"}},
"config":{
"view":{"stroke":null},
"font":"Liberation Sans",
"axis":{"zindex":1,"domainColor":"#000","domainWidth":6,"tickColor":"#000","tickWidth":5,"tickSize":22,"labelFont":"Liberation Sans","labelFontWeight":"bold","labelColor":"#000","grid":false,"titleFont":"Liberation Sans","titleFontWeight":"bold","titleColor":"#000","labelOverlap":false,"labelFlush":false},
"axisY":{"labelFontSize":52,"labelPadding":10,"titleFontSize":56,"titlePadding":28,"titleLineHeight":62},
"axisX":{"labelFontSize":57,"labelPadding":15,"labelAngle":0},
"title":{"font":"Liberation Sans"}
}
}
